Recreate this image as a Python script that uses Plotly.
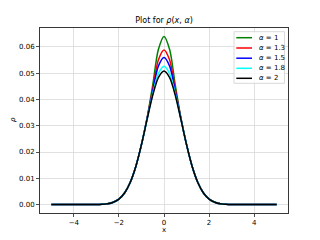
import plotly.graph_objects as go

# half-profile x positions (0..5), mirrored for negative side
x_half = [0.0, 0.25, 0.5, 0.75, 1.0, 1.25, 1.5, 1.75, 2.0, 2.25, 2.5, 2.75, 3.0, 3.5, 4.0, 4.5, 5.0]

rho_a1  = [0.0640, 0.0590, 0.0455, 0.0330, 0.0228, 0.0145, 0.0084, 0.0044, 0.0021, 0.0009, 0.0003, 0.0001, 0.0, 0.0, 0.0, 0.0, 0.0]
rho_a13 = [0.0588, 0.0550, 0.0440, 0.0328, 0.0228, 0.0145, 0.0084, 0.0044, 0.0021, 0.0009, 0.0003, 0.0001, 0.0, 0.0, 0.0, 0.0, 0.0]
rho_a15 = [0.0560, 0.0527, 0.0432, 0.0327, 0.0228, 0.0145, 0.0084, 0.0044, 0.0021, 0.0009, 0.0003, 0.0001, 0.0, 0.0, 0.0, 0.0, 0.0]
rho_a18 = [0.0526, 0.0498, 0.0422, 0.0325, 0.0228, 0.0145, 0.0084, 0.0044, 0.0021, 0.0009, 0.0003, 0.0001, 0.0, 0.0, 0.0, 0.0, 0.0]
rho_a2  = [0.0508, 0.0483, 0.0416, 0.0324, 0.0228, 0.0145, 0.0084, 0.0044, 0.0021, 0.0009, 0.0003, 0.0001, 0.0, 0.0, 0.0, 0.0, 0.0]

series = [
    ("<i>α</i> = 1", rho_a1, "green"),
    ("<i>α</i> = 1.3", rho_a13, "red"),
    ("<i>α</i> = 1.5", rho_a15, "blue"),
    ("<i>α</i> = 1.8", rho_a18, "cyan"),
    ("<i>α</i> = 2", rho_a2, "black"),
]

x_full = [-v for v in x_half[::-1]] + x_half[1:]

fig = go.Figure()
for name, vals, col in series:
    y_full = vals[::-1] + vals[1:]
    fig.add_trace(go.Scatter(x=x_full, y=y_full, mode="lines", name=name, showlegend=False,
                             line=dict(color=col, width=1.5, shape="spline", smoothing=0.8)))

# plot area in pixels
W, H = 320, 240
L, R, T, B = 40, 32, 28, 27
pw, ph = W - L - R, H - T - B
def px(xp):
    return (xp - L) / pw
def py(yp):
    return (H - B - yp) / ph

font = dict(family="DejaVu Sans", size=7, color="black")

# custom compact legend (matplotlib style)
shapes = [dict(type="rect", xref="paper", yref="paper", x0=px(234), x1=px(284.5),
               y0=py(83.3), y1=py(31.7), line=dict(color="#d0d0d0", width=0.8),
               fillcolor="rgba(255,255,255,0.8)", layer="above")]
annotations = []
entry_y = [37.7, 48.0, 58.2, 68.3, 78.3]
for (name, _, col), ey in zip(series, entry_y):
    shapes.append(dict(type="line", xref="paper", yref="paper", x0=px(236.3), x1=px(252),
                       y0=py(ey), y1=py(ey), line=dict(color=col, width=1.5), layer="above"))
    annotations.append(dict(text=name, xref="paper", yref="paper", x=px(257), y=py(ey),
                            xanchor="left", yanchor="middle", showarrow=False, font=font))

# axis titles as annotations at fixed pixel positions
annotations.append(dict(text="<i>ρ</i>", xref="paper", yref="paper", x=px(13), y=py(120),
                        xanchor="center", yanchor="middle", textangle=-90,
                        showarrow=False, font=font))
annotations.append(dict(text="x", xref="paper", yref="paper", x=px(164), y=py(230),
                        xanchor="center", yanchor="middle", showarrow=False, font=font))

axis_common = dict(showline=True, linecolor="#222222", linewidth=0.9, mirror=True,
                   ticks="outside", ticklen=3, tickwidth=0.8, tickcolor="#222222",
                   showgrid=True, gridcolor="#d9d9d9", gridwidth=0.8, zeroline=False,
                   tickfont=font, automargin=False)
fig.update_layout(
    width=W, height=H,
    paper_bgcolor="white", plot_bgcolor="white",
    margin=dict(l=L, r=R, t=T, b=B),
    title=dict(text="Plot for <i>ρ</i>(<i>x</i>, <i>α</i>)", x=0.5, xanchor="center",
               xref="paper", y=1 - 20 / H, yanchor="middle",
               font=dict(family="DejaVu Sans", size=8, color="black")),
    xaxis=dict(range=[-5.5, 5.5], tickvals=[-4, -2, 0, 2, 4], **axis_common),
    yaxis=dict(range=[-0.0032, 0.0672], tickvals=[0.0, 0.01, 0.02, 0.03, 0.04, 0.05, 0.06],
               tickformat=".2f", **axis_common),
    shapes=shapes,
    annotations=annotations,
    showlegend=False,
    hovermode=False,
)

fig.write_html("out.html",
               config={"displayModeBar": False, "staticPlot": True},
               post_script="document.body.style.margin='0';document.body.style.padding='0';")
